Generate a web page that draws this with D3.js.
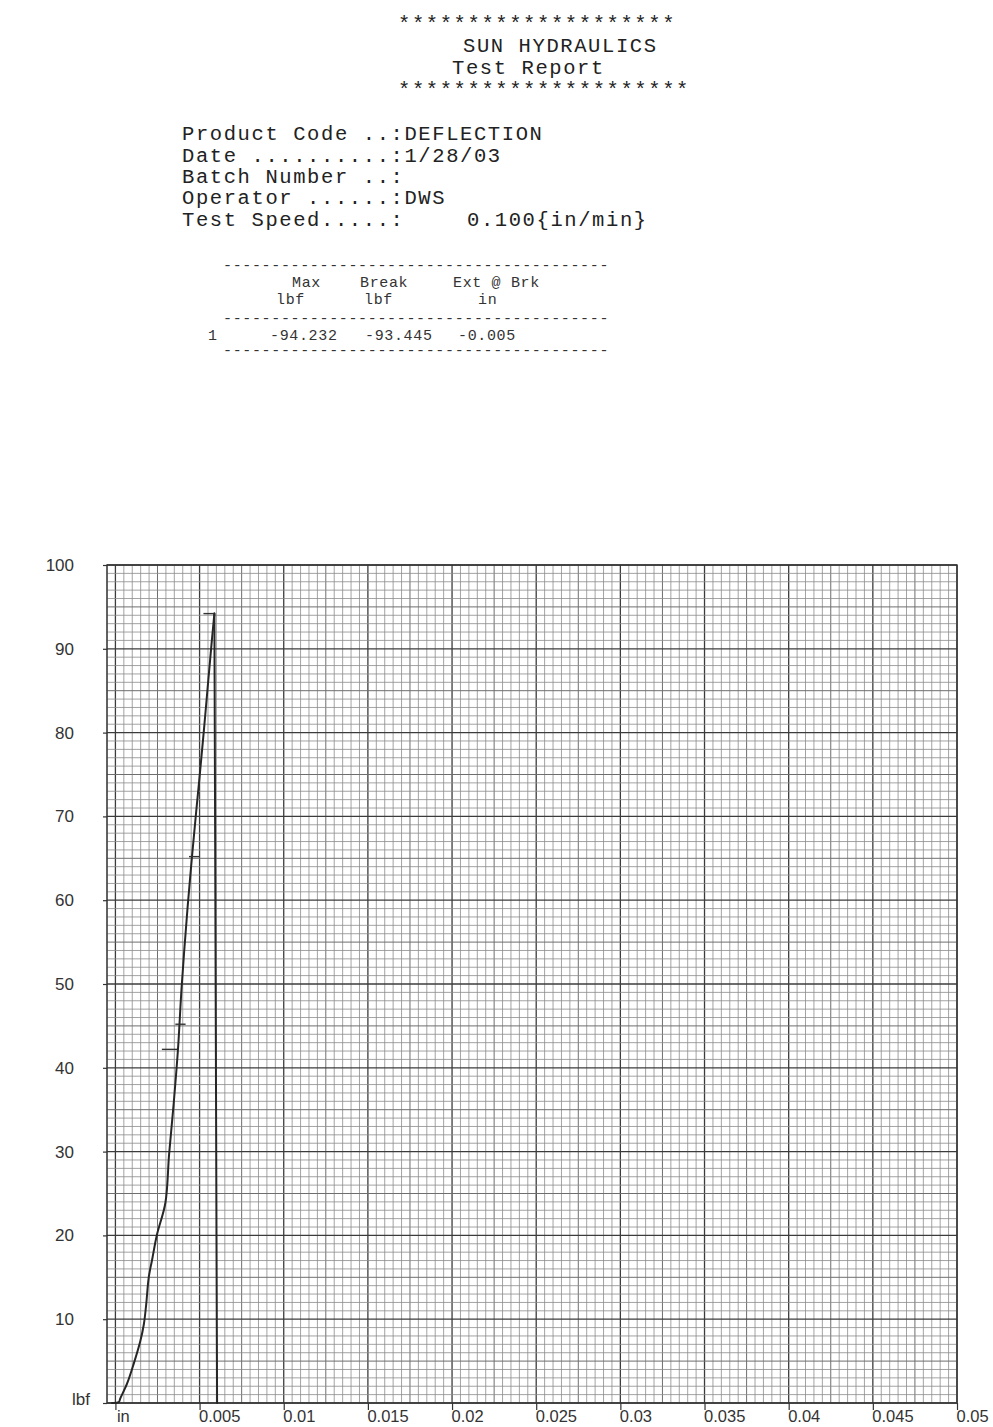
<!DOCTYPE html>
<html>
<head>
<meta charset="utf-8">
<script src="https://cdn.jsdelivr.net/npm/d3@7"></script>
<style>
  body { margin: 0; background: #fff; }
  svg { display: block; }
</style>
</head>
<body>
<div id="chart"></div>
<script>
// report header lines (monospace printout)
const headerLines = [
  {text: '********************', x: 398, y: 30},
  {text: 'SUN HYDRAULICS', x: 463, y: 52},
  {text: 'Test Report', x: 452, y: 74},
  {text: '*********************', x: 398, y: 96},
  {text: 'Product Code ..:DEFLECTION', x: 182, y: 140},
  {text: 'Date ..........:1/28/03', x: 182, y: 162},
  {text: 'Batch Number ..:', x: 182, y: 183},
  {text: 'Operator ......:DWS', x: 182, y: 204},
  {text: 'Test Speed.....:', x: 182, y: 226},
  {text: '0.100{in/min}', x: 467, y: 226}
]

// results table
const tableHead1 = ['Max', 'Break', 'Ext @ Brk']
const tableHead2 = ['lbf', 'lbf', 'in']
const tableRow = ['1', '-94.232', '-93.445', '-0.005']

// load vs deflection trace (last point = drop after break)
const deflection = [-0.0002, 0.0002, 0.00029, 0.00069, 0.00109, 0.00148, 0.00169, 0.00183, 0.00198,
  0.00218, 0.00247, 0.00297, 0.00319, 0.00346, 0.00371, 0.00394, 0.00429, 0.00455, 0.00479,
  0.00498, 0.00524, 0.00552, 0.00573, 0.00588, 0.00604]
const load = [0, 0.1, 0.55, 2.3, 4.7, 7.4, 9.4, 11.8, 15,
  17.1, 20.1, 23.9, 29.7, 35.7, 42, 49.8, 59.2, 65.2, 70.4,
  74.3, 79.9, 86.3, 91, 94.2, 0]

// short pen marks left by the plotter
const markX0 = [0.00523, 0.00276, 0.00356, 0.00437]
const markX1 = [0.00588, 0.00366, 0.00417, 0.00498]
const markY = [94.2, 42.2, 45.2, 65.2]

const xTicks = [0, 0.005, 0.01, 0.015, 0.02, 0.025, 0.03, 0.035, 0.04, 0.045, 0.05]
const xTickLabels = ['in', '0.005', '0.01', '0.015', '0.02', '0.025', '0.03', '0.035', '0.04', '0.045', '0.05']
const yTicks = [0, 10, 20, 30, 40, 50, 60, 70, 80, 90, 100]
const yTickLabels = ['lbf', '10', '20', '30', '40', '50', '60', '70', '80', '90', '100']

const W = 993, H = 1427
const plot = {left: 107, right: 957, top: 565, bottom: 1403}

const svg = d3.select('#chart')
  .append('svg')
  .attr('width', W)
  .attr('height', H)

svg.append('rect').attr('width', W).attr('height', H).attr('fill', '#fff')

// Header
const mono = '"Courier New", "Liberation Mono", monospace'
svg.append('g')
  .selectAll('text')
  .data(headerLines).enter()
  .append('text')
  .attr('x', d => d.x)
  .attr('y', d => d.y)
  .attr('font-family', mono)
  .attr('font-size', 20.5)
  .attr('letter-spacing', 1.6)
  .attr('fill', '#222')
  .style('white-space', 'pre')
  .text(d => d.text)

// Table
const tbl = svg.append('g')
  .attr('font-family', mono)
  .attr('font-size', 15)
  .attr('letter-spacing', 0.65)
  .attr('fill', '#333')

const dashes = '-'.repeat(40)
;[270, 323, 355].forEach(y => {
  tbl.append('text').attr('x', 223).attr('y', y).text(dashes)
})
const headX = [292, 360, 453]
const unitX = [276, 364, 478]
tbl.selectAll('.h1').data(tableHead1).enter().append('text')
  .attr('x', (d, i) => headX[i]).attr('y', 287).text(d => d)
tbl.selectAll('.h2').data(tableHead2).enter().append('text')
  .attr('x', (d, i) => unitX[i]).attr('y', 304).text(d => d)
const rowX = [208, 270, 365, 458]
tbl.selectAll('.r').data(tableRow).enter().append('text')
  .attr('x', (d, i) => rowX[i]).attr('y', 340).text(d => d)

// Scales (paper starts one minor division left of zero)
const xScale = d3.scaleLinear()
  .domain([-0.0005, 0.05])
  .range([plot.left, plot.right])

const yScale = d3.scaleLinear()
  .domain([0, 100])
  .range([plot.bottom, plot.top])

// Graph paper grid: 10 minor divisions per major, heavier at 5
const grid = svg.append('g')
const lineStyle = (n) => n % 10 === 0 ? ['#3c3c3c', 1.3] : n % 5 === 0 ? ['#6e6e6e', 1] : ['#8c8c8c', 0.8]

grid.selectAll('.gx')
  .data(d3.range(-1, 101)).enter()
  .append('line')
  .attr('x1', d => xScale(d * 0.0005)).attr('x2', d => xScale(d * 0.0005))
  .attr('y1', plot.top).attr('y2', plot.bottom)
  .attr('stroke', d => lineStyle(d)[0])
  .attr('stroke-width', d => lineStyle(d)[1])

grid.selectAll('.gy')
  .data(yScale.ticks(100)).enter()
  .append('line')
  .attr('x1', plot.left).attr('x2', plot.right)
  .attr('y1', d => yScale(d)).attr('y2', d => yScale(d))
  .attr('stroke', d => lineStyle(Math.round(d))[0])
  .attr('stroke-width', d => lineStyle(Math.round(d))[1])

svg.append('rect')
  .attr('x', plot.left).attr('y', plot.top)
  .attr('width', plot.right - plot.left).attr('height', plot.bottom - plot.top)
  .attr('fill', 'none').attr('stroke', '#333').attr('stroke-width', 1.4)

// Axes
const sans = '"Liberation Sans", Arial, sans-serif'

const yAxis = d3.axisLeft(yScale)
  .tickValues(yTicks)
  .tickFormat((d, i) => yTickLabels[i])
  .tickSizeInner(4)
  .tickSizeOuter(0)
  .tickPadding(29)

const yAxisCall = svg.append('g')
  .attr('transform', `translate(${plot.left}, 0)`)
  .call(yAxis)

const xAxis = d3.axisBottom(xScale)
  .tickValues(xTicks)
  .tickFormat((d, i) => xTickLabels[i])
  .tickSizeInner(7)
  .tickSizeOuter(0)
  .tickPadding(3)

const xAxisCall = svg.append('g')
  .attr('transform', `translate(0, ${plot.bottom})`)
  .call(xAxis)

;[xAxisCall, yAxisCall].forEach(a => {
  a.select('.domain').remove()
  a.selectAll('line').attr('stroke', '#333').attr('stroke-width', 1.2)
  a.selectAll('text')
    .attr('font-family', sans)
    .attr('font-size', 17)
    .attr('fill', '#333')
})

xAxisCall.selectAll('text')
  .attr('text-anchor', 'start')
  .attr('font-size', 16.5)
  .attr('x', d => d === 0 ? 1 : -1)
  .attr('y', 7)

yAxisCall.selectAll('text')
  .filter(d => d === 0)
  .attr('x', -17)
  .attr('dy', '0.1em')

// Trace: smooth rise, then straight drop at break
const n = load.length
const rise = d3.line()
  .curve(d3.curveCatmullRom.alpha(0.5))
  .x(i => xScale(deflection[i]))
  .y(i => yScale(load[i]))

const drop = d3.line()
  .x(i => xScale(deflection[i]))
  .y(i => yScale(load[i]))

const traceStyle = p => p
  .attr('fill', 'none')
  .attr('stroke', '#262626')
  .attr('stroke-width', 2)
  .attr('stroke-linejoin', 'round')
  .attr('stroke-linecap', 'round')

svg.append('path')
  .datum(d3.range(0, n - 1))
  .attr('d', rise)
  .call(traceStyle)

svg.append('path')
  .datum([n - 2, n - 1])
  .attr('d', drop)
  .call(traceStyle)

svg.append('g')
  .selectAll('line')
  .data(markY).enter()
  .append('line')
  .attr('x1', (d, i) => xScale(markX0[i]))
  .attr('x2', (d, i) => xScale(markX1[i]))
  .attr('y1', d => yScale(d))
  .attr('y2', d => yScale(d))
  .attr('stroke', '#333')
  .attr('stroke-width', 1.4)
</script>
</body>
</html>
